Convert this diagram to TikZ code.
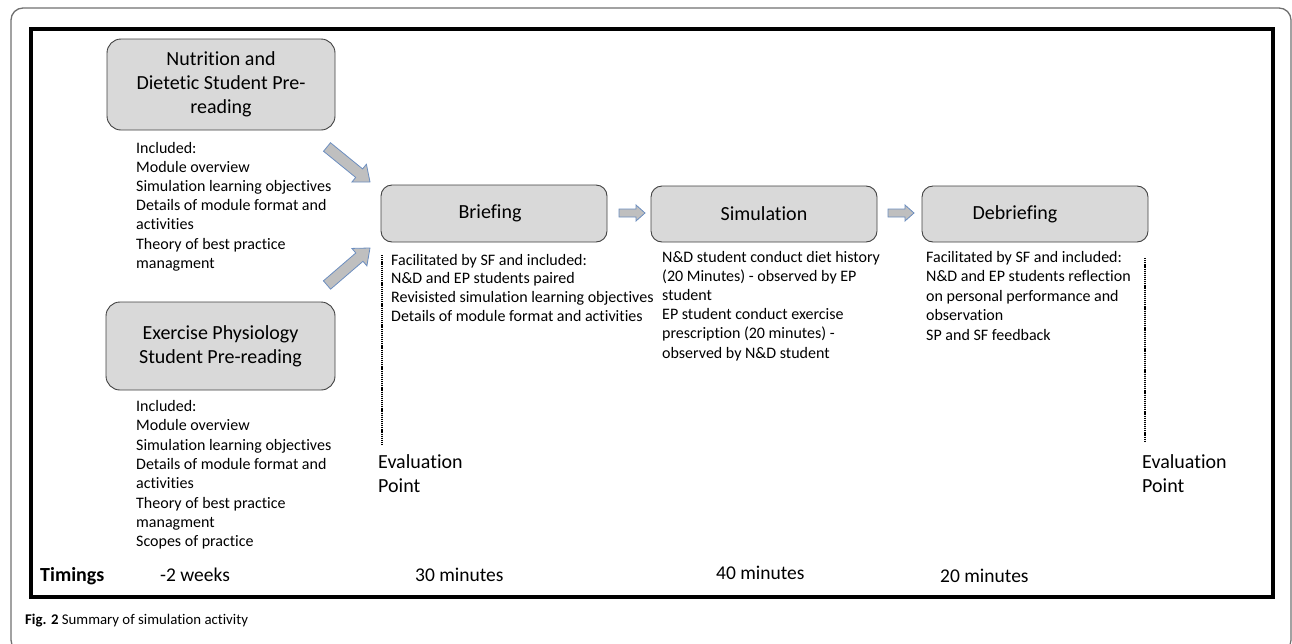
\documentclass[tikz,border=0pt]{standalone}
\usepackage{fontspec}
\setmainfont[Ligatures=NoCommon]{Carlito}
\usetikzlibrary{calc}
\definecolor{boxfill}{HTML}{D9D9D9}
\definecolor{boxdraw}{HTML}{404040}
\definecolor{arrfill}{HTML}{BFBFBF}
\definecolor{arrdraw}{HTML}{6C8EBF}
\definecolor{framegray}{HTML}{707070}
\newcommand\blockarr[5]{%
  \coordinate (hb) at ($(#2)!#5!(#1)$);
  \draw[blockarrow] ($(#1)!#3!90:(#2)$) -- ($(hb)!#3!90:(#2)$) -- ($(hb)!#4!90:(#2)$) -- (#2)
    -- ($(hb)!#4!-90:(#2)$) -- ($(hb)!#3!-90:(#2)$) -- ($(#1)!#3!-90:(#2)$) -- cycle;
}
\begin{document}
\begin{tikzpicture}[x=1pt,y=-1pt,
  stagebox/.style={draw=boxdraw, fill=boxfill, line width=0.9pt, rounded corners=14pt, align=center, inner sep=0pt},
  titlefont/.style={font=\fontsize{20}{24}\selectfont},
  bodytext/.style={anchor=base west, align=left, inner sep=0pt, font=\fontsize{16}{19.2}\selectfont},
  evaltext/.style={anchor=base west, align=left, inner sep=0pt, font=\fontsize{20}{24}\selectfont},
  timetext/.style={anchor=base west, inner sep=0pt, font=\fontsize{19.5}{22}\selectfont},
  evalline/.style={line width=1.5pt, dash pattern=on 1.2pt off 0.9pt},
  blockarrow/.style={draw=arrdraw, fill=arrfill, line width=0.8pt, line join=miter}
]
\useasboundingbox (0,0) rectangle (1292,643);
\clip (0,0) rectangle (1292,643);
% outer frame
\draw[framegray, line width=1.3pt, rounded corners=12pt] (11,8) rectangle (1291,652);
% inner frame
\draw[black, line width=4pt] (31,29) rectangle (1273,597);

% stage boxes
\node[stagebox, titlefont, minimum width=228pt, minimum height=91pt] (nd) at (221,84.5)
  {Nutrition and\\Dietetic Student Pre-\\reading};
\node[stagebox, titlefont, minimum width=229pt, minimum height=88pt] (ep) at (220.5,346)
  {Exercise Physiology\\Student Pre-reading};
\node[stagebox, titlefont, rounded corners=11pt, minimum width=226pt, minimum height=57pt] (br) at (494,213.5)
  {Briefing\hspace*{8pt}};
\node[stagebox, titlefont, rounded corners=11pt, minimum width=226pt, minimum height=56pt] (sim) at (764,214)
  {Simulation};
\node[stagebox, titlefont, rounded corners=11pt, minimum width=226pt, minimum height=56pt] (deb) at (1035,214)
  {Debriefing\hspace*{40pt}};

% body texts (anchored at the baseline of their last line)
\node[bodytext] (ndtext) at (136,268.2) {Included:\\Module overview\\Simulation learning objectives\\Details of module format and\\activities\\Theory of best practice\\managment};
\node[bodytext, font=\fontsize{16}{19.3}\selectfont] (eptext) at (136,546.6) {Included:\\Module overview\\Simulation learning objectives\\Details of module format and\\activities\\Theory of best practice\\managment\\Scopes of practice};
\node[bodytext, font=\fontsize{16}{18.9}\selectfont] (brtext) at (391,321.7) {Facilitated by SF and included:\\N\&D and EP students paired\\Revisisted simulation learning objectives\\Details of module format and activities};
\node[bodytext, font=\fontsize{16}{19.1}\selectfont] (simtext) at (662,358) {N\&D student conduct diet history\\(20 Minutes) - observed by EP\\student\\EP student conduct exercise\\prescription (20 minutes) -\\observed by N\&D student};
\node[bodytext, font=\fontsize{16}{19.6}\selectfont] (debtext) at (926,340.4) {Facilitated by SF and included:\\N\&D and EP students reflection\\on personal performance and\\observation\\SP and SF feedback};

% evaluation points
\coordinate (e1top) at (382,255);
\coordinate (e1bot) at (382,446);
\draw[evalline] (e1top) -- (e1bot);
\node[evaltext] (eval1) at (378,492) {Evaluation\\Point};
\coordinate (e2top) at (1145,258);
\coordinate (e2bot) at (1145,442);
\draw[evalline] (e2top) -- (e2bot);
\node[evaltext] (eval2) at (1142,492) {Evaluation\\Point};

% block arrows
\coordinate (a1s) at (327,147);
\coordinate (a1e) at (370,182);
\blockarr{a1s}{a1e}{5.5pt}{11.5pt}{14pt}
\coordinate (a2s) at (327,285);
\coordinate (a2e) at (370,248);
\blockarr{a2s}{a2e}{5.5pt}{11.5pt}{14pt}
\coordinate (a3s) at (619,213);
\coordinate (a3e) at (645,213);
\blockarr{a3s}{a3e}{4pt}{8pt}{9pt}
\coordinate (a4s) at (888,213);
\coordinate (a4e) at (914,213);
\blockarr{a4s}{a4e}{4pt}{8pt}{9pt}

% timings
\node[timetext, font=\fontsize{20}{22}\bfseries] (tim) at (40,581) {Timings};
\node[timetext] (t1) at (160,581) {-2 weeks};
\node[timetext] (t2) at (415,581) {30 minutes};
\node[timetext] (t3) at (716,579) {40 minutes};
\node[timetext] (t4) at (940,582) {20 minutes};

% caption
\node[anchor=base west, inner sep=0pt, font=\fontsize{14.8}{18}\selectfont] (cap) at (25,624)
  {\textbf{Fig. 2} Summary of simulation activity};
\end{tikzpicture}
\end{document}
